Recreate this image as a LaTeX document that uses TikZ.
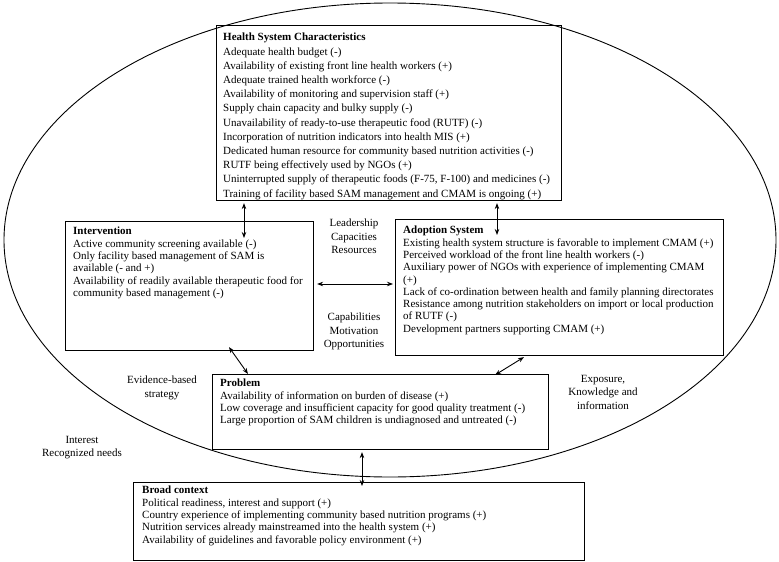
\documentclass[tikz,border=0pt]{standalone}
\usepackage{fontspec}
\setmainfont{Liberation Serif}
\usetikzlibrary{positioning, arrows.meta}

\begin{document}
\begin{tikzpicture}[
        x=1pt, y=-1pt,
        every node/.style={font=\fontsize{11}{12.3}\selectfont},
        box/.style={rectangle, draw=black, line width=1.1pt, anchor=north west, inner sep=0pt},
        boxtext/.style={anchor=north west, align=left, inner sep=0pt},
        side/.style={anchor=north, align=center, inner sep=0pt, font=\fontsize{11}{13.3}\selectfont},
        arrow/.style={line width=0.9pt,<->,>={Stealth[length=6pt,width=4.5pt]}}
    ]
    \useasboundingbox (0,0) rectangle (779,562);

    % Outer ring
    \draw[line width=0.9pt] (390,240) ellipse [x radius=386, y radius=237];

    % Boxes
    \node[box, minimum width=345pt, minimum height=175pt] (health) at (216,25) {};
    \node[box, minimum width=248pt, minimum height=129pt] (interv) at (65,221) {};
    \node[box, minimum width=328pt, minimum height=136pt] (adopt) at (395,219) {};
    \node[box, minimum width=336pt, minimum height=75pt] (problem) at (212,374) {};
    \node[box, minimum width=451pt, minimum height=78pt] (broad) at (133,482) {};

    % Box texts
    \node[boxtext, font=\fontsize{11}{14.2}\selectfont] (health-txt) at (223,33) {\textbf{Health System Characteristics}\\
        Adequate health budget (-)\\
        Availability of existing front line health workers (+)\\
        Adequate trained health workforce (-)\\
        Availability of monitoring and supervision staff (+)\\
        Supply chain capacity and bulky supply (-)\\
        Unavailability of ready-to-use therapeutic food (RUTF) (-)\\
        Incorporation of nutrition indicators into health MIS (+)\\
        Dedicated human resource for community based nutrition activities (-)\\
        RUTF being effectively used by NGOs (+)\\
        Uninterrupted supply of therapeutic foods (F-75, F-100) and medicines (-)\\
        Training of facility based SAM management and CMAM is ongoing (+)};
    \node[boxtext] (interv-txt) at (73,227) {\textbf{Intervention}\\
        Active community screening available (-)\\
        Only facility based management of SAM is\\
        available (- and +)\\
        Availability of readily available therapeutic food for\\
        community based management (-)};
    \node[boxtext] (adopt-txt) at (403,226) {\textbf{Adoption System}\\
        Existing health system structure is favorable to implement CMAM (+)\\
        Perceived workload of the front line health workers (-)\\
        Auxiliary power of NGOs with experience of implementing CMAM\\
        (+)\\
        Lack of co-ordination between health and family planning directorates\\
        Resistance among nutrition stakeholders on import or local production\\
        of RUTF (-)\\
        Development partners supporting CMAM (+)};
    \node[boxtext] (problem-txt) at (220,379) {\textbf{Problem}\\
        Availability of information on burden of disease (+)\\
        Low coverage and insufficient capacity for good quality treatment (-)\\
        Large proportion of SAM children is undiagnosed and untreated (-)};
    \node[boxtext] (broad-txt) at (142,486) {\textbf{Broad context}\\
        Political readiness, interest and support (+)\\
        Country experience of implementing community based nutrition programs (+)\\
        Nutrition services already mainstreamed into the health system (+)\\
        Availability of guidelines and favorable policy environment (+)};

    % Side labels
    \node[side] (leader) at (354,219) {Leadership\\Capacities\\Resources};
    \node[side] (capab) at (354,313) {Capabilities\\Motivation\\Opportunities};
    \node[side] (evidence) at (162,376) {Evidence-based\\strategy};
    \node[side] (exposure) at (603,375) {Exposure,\\Knowledge and\\information};
    \node[side] (interest) at (82,436) {Interest\\Recognized needs};

    % Arrows
    \draw[arrow] ([shift={(28,2)}]health.south west) -- ([shift={(179,17)}]interv.north west);
    \draw[arrow] ([shift={(281,2)}]health.south west) -- ([shift={(102,16)}]adopt.north west);
    \draw[arrow] ([shift={(3,63)}]interv.north east) -- ([shift={(-2,65)}]adopt.north west);
    \draw[arrow] ([shift={(164,-4)}]interv.south west) -- ([shift={(36,0)}]problem.north west);
    \draw[arrow] ([shift={(129,1)}]adopt.south west) -- ([shift={(283,1)}]problem.north west);
    \draw[arrow] ([shift={(150,2)}]problem.south west) -- ([shift={(229,4)}]broad.north west);

\end{tikzpicture}
\end{document}
